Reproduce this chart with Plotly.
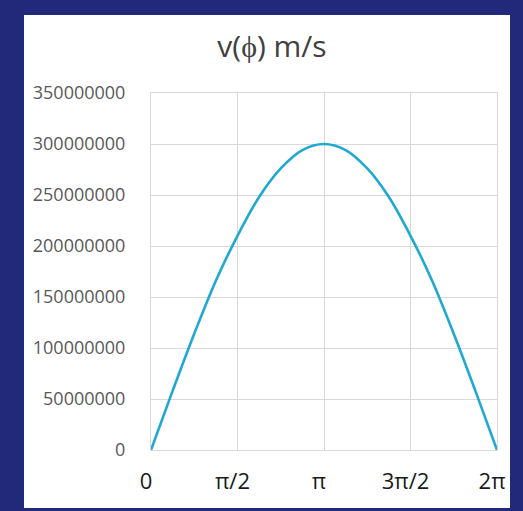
import math
import plotly.graph_objects as go

# phase values (multiples of pi/8) and speed
phi_eighths = [0, 1, 2, 3, 4, 5, 6, 7, 8, 9, 10, 11, 12, 13, 14, 15, 16]
speed = [0, 58e6, 114e6, 166e6, 210e6, 248e6, 276e6, 294e6, 300e6,
         294e6, 276e6, 248e6, 210e6, 166e6, 114e6, 58e6, 0]
tick_vals_halfpi = [0, 1, 2, 3, 4]
tick_text = ["0", "π/2", "π", "3π/2", "2π"]
title_text = "v(ϕ) m/s"

phi = [k * math.pi / 8 for k in phi_eighths]
tickvals = [k * math.pi / 2 for k in tick_vals_halfpi]

W, H = 523, 511
L, R, T, B = 151, 26, 93, 61
pw, ph = W - L - R, H - T - B

def px(x):
    return (x - L) / pw

def py(y):
    return (H - B - y) / ph

BG = "#22287a"
GRID = "#d9d9d9"

fig = go.Figure()
fig.add_trace(go.Scatter(x=phi, y=speed, mode="lines",
                         line=dict(color="#1FA8D0", width=2.6, shape="spline"),
                         hoverinfo="skip", showlegend=False))

fig.add_shape(type="rect", xref="paper", yref="paper",
              x0=px(24), x1=px(510), y0=py(508), y1=py(15),
              fillcolor="white", line=dict(width=0), layer="below")

fig.update_layout(
    width=W, height=H,
    margin=dict(l=L, r=R, t=T, b=B),
    paper_bgcolor=BG,
    plot_bgcolor="rgba(0,0,0,0)",
    title=dict(text=title_text, x=272 / W, xanchor="center",
               y=1 - 46 / H, yanchor="middle",
               font=dict(family="Open Sans", size=30, color="#404040")),
    showlegend=False,
)
fig.update_xaxes(range=[0, 2 * math.pi], tickvals=tickvals, ticktext=tick_text,
                 showgrid=True, gridcolor=GRID, gridwidth=1,
                 zeroline=False, showline=True, mirror=True,
                 linecolor=GRID, linewidth=1, ticks="",
                 ticklabelstandoff=12, ticklabelshift=-5,
                 tickfont=dict(family="Open Sans", size=22, color="#1a1a1a"))
fig.update_yaxes(range=[0, 350e6], dtick=50e6, tick0=0, tickformat="d",
                 showgrid=True, gridcolor=GRID, gridwidth=1,
                 zeroline=False, showline=True, mirror=True,
                 linecolor=GRID, linewidth=1, ticks="",
                 ticklabelstandoff=21,
                 tickfont=dict(family="Open Sans", size=18, color="#595959"))

fig.write_html(
    "out.html",
    config={"displayModeBar": False},
    post_script="document.body.style.margin='0';document.body.style.overflow='hidden';"
                "document.body.style.background='" + BG + "';",
)
